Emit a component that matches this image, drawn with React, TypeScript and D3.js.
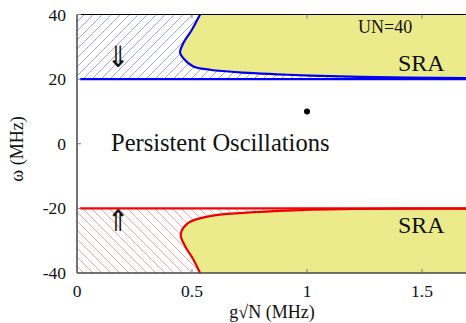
import React from "react";
import * as d3 from "d3";

const W = 466;
const H = 323;

const xTicks = [0, 0.5, 1, 1.5];
const xTickLabels = ["0", "0.5", "1", "1.5"];
const yTicks = [40, 20, 0, -20, -40];
const yTickLabels = ["40", "20", "0", "-20", "-40"];

// boundary of the upper SRA region (g√N, ω)
const upperCurve: [number, number][] = [
  [0.535, 40], [0.499, 35.2], [0.462, 31.1], [0.448, 28.2], [0.462, 26.5],
  [0.506, 23.9], [0.578, 22.9], [0.722, 22.0], [0.868, 21.5], [1.013, 21.1],
  [1.23, 20.7], [1.7, 20.3],
];
// boundary of the lower SRA region
const lowerCurve: [number, number][] = [
  [0.535, -40], [0.506, -35.8], [0.47, -31.7], [0.451, -28.1], [0.484, -24.5],
  [0.578, -22.4], [0.723, -21.4], [0.94, -20.6], [1.2, -20.2], [1.7, -20.05],
];
const bandUpper = [20, 40];
const bandLower = [-40, -20];
const pointData: [number, number][] = [[1.0, 10]];

const serif = "'Liberation Serif', 'Times New Roman', serif";
const arrowFont = "'DejaVu Sans ExtraLight', 'DejaVu Sans', sans-serif";

export default function App() {
  const x = d3.scaleLinear().domain([0, 1.7]).range([77, 77 + 1.7 * 230]);
  const y = d3.scaleLinear().domain([-40, 40]).range([273, 14.5]);
  const line = d3
    .line<[number, number]>()
    .x((d) => x(d[0]))
    .y((d) => y(d[1]))
    .curve(d3.curveCatmullRom.alpha(0.5));

  const upperFill = line(upperCurve)! + `L${x(1.7)},${y(40)}Z`;
  const lowerFill = line(lowerCurve)! + `L${x(1.7)},${y(-40)}Z`;

  const x0 = x(0);
  const x1 = x(1.7);

  return (
    <svg
      width={W}
      height={H}
      style={{ position: "absolute", left: 0, top: 0, background: "#fff" }}
      fontFamily={serif}
    >
      <defs>
        <pattern id="hatchBlue" patternUnits="userSpaceOnUse" width="9" height="9">
          <path d="M-1,10 L10,-1 M-5.5,5.5 L5.5,-5.5 M3.5,14.5 L14.5,3.5" stroke="#9a9af5" strokeWidth="0.9" />
        </pattern>
        <pattern id="hatchRed" patternUnits="userSpaceOnUse" width="9" height="9">
          <path d="M-1,-1 L10,10 M-5.5,3.5 L5.5,14.5 M3.5,-5.5 L14.5,5.5" stroke="#ff9a9a" strokeWidth="0.9" />
        </pattern>
        <clipPath id="plotClip">
          <rect x={x0} y={y(40)} width={x1 - x0} height={y(-40) - y(40)} />
        </clipPath>
      </defs>

      <g clipPath="url(#plotClip)">
        <rect
          x={x0}
          y={y(bandUpper[1])}
          width={x1 - x0}
          height={y(bandUpper[0]) - y(bandUpper[1])}
          fill="url(#hatchBlue)"
        />
        <rect
          x={x0}
          y={y(bandLower[1])}
          width={x1 - x0}
          height={y(bandLower[0]) - y(bandLower[1])}
          fill="url(#hatchRed)"
        />
        <path d={upperFill} fill="#ebeb8c" />
        <path d={lowerFill} fill="#ebeb8c" />
        <line x1={x0 + 3} x2={x1} y1={y(20)} y2={y(20)} stroke="#0000ff" strokeWidth={2.2} />
        <line x1={x0 + 3} x2={x1} y1={y(-20)} y2={y(-20)} stroke="#ff0000" strokeWidth={2.2} />
        <path d={line(upperCurve)!} fill="none" stroke="#0000ee" strokeWidth={2.2} />
        <path d={line(lowerCurve)!} fill="none" stroke="#ee0000" strokeWidth={2.2} />
      </g>

      {/* frame */}
      <line x1={x0} x2={W} y1={y(40)} y2={y(40)} stroke="#000" strokeWidth={1.2} />
      <line x1={x0} x2={W} y1={y(-40)} y2={y(-40)} stroke="#444" strokeWidth={1.5} />
      <line x1={x0} x2={x0} y1={y(40)} y2={y(-40)} stroke="#444" strokeWidth={1.5} />

      {/* ticks */}
      {xTicks.map((t, i) => (
        <g key={"xt" + i}>
          <line x1={x(t)} x2={x(t)} y1={y(-40)} y2={y(-40) - 4} stroke="#777" strokeWidth={1} />
          <line x1={x(t)} x2={x(t)} y1={y(40)} y2={y(40) + 4} stroke="#777" strokeWidth={1} />
          <text x={x(t)} y={297} textAnchor="middle" fontSize={17.5} fill="#111">
            {xTickLabels[i]}
          </text>
        </g>
      ))}
      {yTicks.map((t, i) => (
        <g key={"yt" + i}>
          <line x1={x0} x2={x0 + 4} y1={y(t)} y2={y(t)} stroke="#777" strokeWidth={1} />
          <text x={66} y={y(t) + 6} textAnchor="end" fontSize={17.5} fill="#111">
            {yTickLabels[i]}
          </text>
        </g>
      ))}

      {/* point */}
      {pointData.map((p, i) => (
        <circle key={i} cx={x(p[0])} cy={y(p[1])} r={3} fill="#000" />
      ))}

      {/* labels */}
      <text x={111} y={151} fontSize={24.5} fontFamily={serif} fill="#111">Persistent Oscillations</text>
      <text x={358} y={33} fontSize={18} fill="#111">UN=40</text>
      <text x={398} y={71} fontSize={24} fill="#111">SRA</text>
      <text x={398} y={232.5} fontSize={24} fill="#111">SRA</text>
      <text
        transform="translate(118,67) scale(1.2,1.35)"
        fontSize={22}
        textAnchor="middle"
        fontFamily={arrowFont}
        fill="#111"
      >
        ⇓
      </text>
      <text
        transform="translate(118,231) scale(1.2,1.35)"
        fontSize={22}
        textAnchor="middle"
        fontFamily={arrowFont}
        fill="#111"
      >
        ⇑
      </text>

      <text x={272} y={318} textAnchor="middle" fontSize={18} fill="#111">g√N (MHz)</text>
      <text
        transform={`translate(23,149) rotate(-90)`}
        textAnchor="middle"
        fontSize={18}
        fill="#111"
      >
        ω (MHz)
      </text>
    </svg>
  );
}
